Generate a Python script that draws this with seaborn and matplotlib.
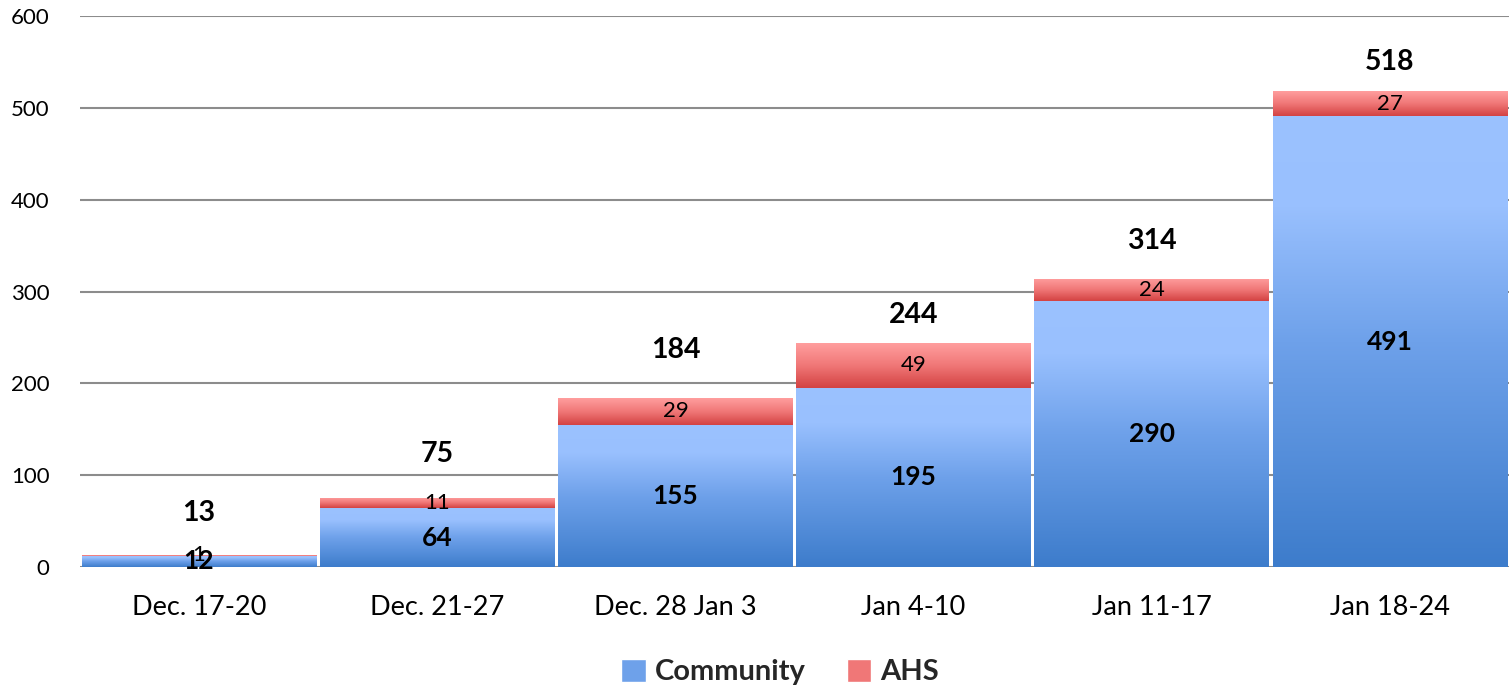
import numpy as np
import pandas as pd
import matplotlib
matplotlib.use("Agg")
import matplotlib.pyplot as plt
import seaborn as sns
from matplotlib.colors import LinearSegmentedColormap
from matplotlib.patches import Patch

weeks = ["Dec. 17-20", "Dec. 21-27", "Dec. 28 Jan 3", "Jan 4-10", "Jan 11-17", "Jan 18-24"]
community = [12, 64, 155, 195, 290, 491]
ahs = [1, 11, 29, 49, 24, 27]
totals = [13, 75, 184, 244, 314, 518]

# gap between bar top and its total label (data units), as placed in the original
total_gap = [46, 48, 52, 30, 41, 32]

sns.set_theme(style="white")
plt.rcParams["font.family"] = ["Lato", "DejaVu Sans"]

df = pd.DataFrame({"week": weeks, "Community": community, "AHS": ahs})

blue_cmap = LinearSegmentedColormap.from_list(
    "blue", [(0, "#3D7CCB"), (0.5, "#6EA1EA"), (0.8, "#99C0FE"), (1, "#9BC2FF")])
red_cmap = LinearSegmentedColormap.from_list(
    "red", [(0, "#D34242"), (0.5, "#F07777"), (1, "#FF9E9E")])

fig = plt.figure(figsize=(15.09, 6.85), dpi=100)
ax = fig.add_axes([0.053, 0.1723, 0.947, 0.8043])

sns.barplot(data=df, x="week", y="Community", color="#6EA1EA", width=0.985,
            saturation=1, ax=ax, zorder=2)
n_blue = len(ax.patches)
sns.barplot(data=df, x="week", y="AHS", bottom=df["Community"], color="#F07777",
            width=0.985, saturation=1, ax=ax, zorder=2)

# gradient fills clipped to each bar
grad = np.linspace(0, 1, 256).reshape(-1, 1)
for i, p in enumerate(ax.patches):
    x0, y0 = p.get_x(), p.get_y()
    w, h = p.get_width(), p.get_height()
    cmap = blue_cmap if i < n_blue else red_cmap
    im = ax.imshow(grad, cmap=cmap, origin="lower", aspect="auto",
                   extent=[x0, x0 + w, y0, y0 + h], zorder=3)
    im.set_clip_path(p)
    p.set_edgecolor("none")

ax.set_xlim(-0.5, 5.5)
ax.set_ylim(0, 600)
ax.set_yticks(range(0, 601, 100))
ax.yaxis.grid(True, color="#8C8C8C", linewidth=1.5)
ax.set_axisbelow(True)
for s in ax.spines.values():
    s.set_visible(False)
ax.set_xlabel("")
ax.set_ylabel("")
ax.tick_params(axis="y", length=0, pad=22, labelsize=16, labelcolor="black")
ax.tick_params(axis="x", length=0, pad=20, labelsize=19.5, labelcolor="black")

# labels
for i in range(len(weeks)):
    ax.text(i, community[i] / 2, str(community[i]), ha="center", va="center",
            fontsize=19, fontweight="bold", color="black", zorder=5)
    ax.text(i, community[i] + ahs[i] / 2, str(ahs[i]), ha="center", va="center",
            fontsize=16, color="black", zorder=5)
    ax.text(i, totals[i] + total_gap[i], str(totals[i]), ha="center", va="center",
            fontsize=20.5, fontweight="bold", color="black", zorder=5)

handles = [Patch(facecolor="#6EA1EA", label="Community"),
           Patch(facecolor="#F07777", label="AHS")]
fig.legend(handles=handles, loc="lower center", bbox_to_anchor=(0.517, -0.039), ncol=2,
           frameon=False, prop={"size": 21, "weight": "bold"},
           handlelength=0.85, handleheight=0.85, handletextpad=0.3, columnspacing=1.4)

fig.savefig("out.png", dpi=100)
